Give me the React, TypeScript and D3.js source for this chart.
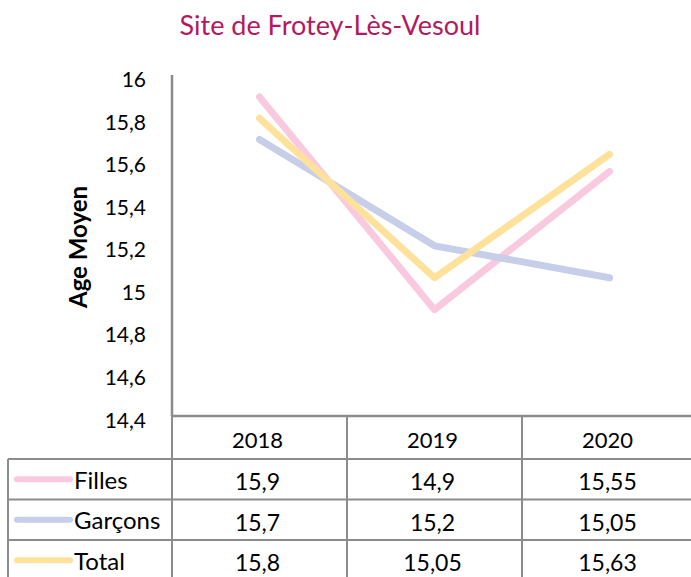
import React from "react";
import * as d3 from "d3";

const categories = ["2018", "2019", "2020"];
const seriesNames = ["Filles", "Garçons", "Total"];
const filles = [15.9, 14.9, 15.55];
const garcons = [15.7, 15.2, 15.05];
const total = [15.8, 15.05, 15.63];
const tableLabels = [
  ["15,9", "14,9", "15,55"],
  ["15,7", "15,2", "15,05"],
  ["15,8", "15,05", "15,63"],
];
const yTicks = [14.4, 14.6, 14.8, 15, 15.2, 15.4, 15.6, 15.8, 16];
const colors = ["#F9CADF", "#C6CEE9", "#FEE19A"];

const W = 691;
const H = 577;
const FONT = "Lato, 'Open Sans', sans-serif";

export default function App() {
  const x = d3.scaleBand<string>().domain(categories).range([172, 697]);
  const y = d3.scaleLinear().domain([14.4, 16]).range([416, 75.7]);
  const data = [filles, garcons, total];
  const line = d3
    .line<number>()
    .x((_, i) => (x(categories[i]) as number) + x.bandwidth() / 2)
    .y((v) => y(v));
  const axisColor = "#8C8C8C";
  const headerTop = 416;
  const headerBottom = 459;
  const rowH = 40.5;
  const fmt = (v: number) => String(v).replace(".", ",");

  return (
    <svg
      width={W}
      height={H}
      style={{ position: "absolute", left: 0, top: 0, background: "#fff" }}
      fontFamily={FONT}
    >
      <text x={330} y={35} textAnchor="middle" fontSize={27} fill="#B3195E">
        Site de Frotey-Lès-Vesoul
      </text>
      <text
        transform={`translate(87,247) rotate(-90)`}
        textAnchor="middle"
        fontSize={24}
        fontWeight="bold"
        fill="#000"
      >
        Age Moyen
      </text>
      {yTicks.map((t) => (
        <text
          key={t}
          x={146}
          y={y(t) + 3}
          textAnchor="end"
          dominantBaseline="central"
          fontSize={21}
          fill="#000"
        >
          {fmt(t)}
        </text>
      ))}
      {/* axis */}
      <line x1={172} x2={172} y1={75} y2={headerTop} stroke={axisColor} strokeWidth={2.5} />
      <line x1={171} x2={W} y1={headerTop} y2={headerTop} stroke={axisColor} strokeWidth={2.5} />
      {/* lines */}
      {data.map((d, i) => (
        <path
          key={i}
          d={line(d) || ""}
          fill="none"
          stroke={colors[i]}
          strokeWidth={7}
          strokeLinecap="round"
          strokeLinejoin="round"
        />
      ))}
      {/* table */}
      {categories.map((c) => (
        <g key={c}>
          <line
            x1={x(c) as number}
            x2={x(c) as number}
            y1={headerTop}
            y2={H}
            stroke={axisColor}
            strokeWidth={2}
          />
          <text
            x={(x(c) as number) + x.bandwidth() / 2 - 2}
            y={(headerTop + headerBottom) / 2 + 2}
            textAnchor="middle"
            dominantBaseline="central"
            fontSize={22}
            fill="#000"
          >
            {c}
          </text>
        </g>
      ))}
      <line x1={8} x2={8} y1={headerBottom} y2={H} stroke={axisColor} strokeWidth={2} />
      {seriesNames.map((s, i) => {
        const top = headerBottom + i * rowH;
        return (
          <g key={s}>
            <line x1={8} x2={W} y1={top} y2={top} stroke={axisColor} strokeWidth={2} />
            <line
              x1={17}
              x2={70}
              y1={top + rowH / 2}
              y2={top + rowH / 2}
              stroke={colors[i]}
              strokeWidth={6}
              strokeLinecap="round"
            />
            <text x={74} y={top + rowH / 2} dominantBaseline="central" fontSize={24} fill="#000">
              {s}
            </text>
            {categories.map((c) => (
              <text
                key={c}
                x={(x(c) as number) + x.bandwidth() / 2 - 2}
                y={top + rowH / 2 + 2}
                textAnchor="middle"
                dominantBaseline="central"
                fontSize={23}
                fill="#000"
              >
                {tableLabels[i][seriesNames.indexOf(s) >= 0 ? categories.indexOf(c) : 0]}
              </text>
            ))}
          </g>
        );
      })}
    </svg>
  );
}
